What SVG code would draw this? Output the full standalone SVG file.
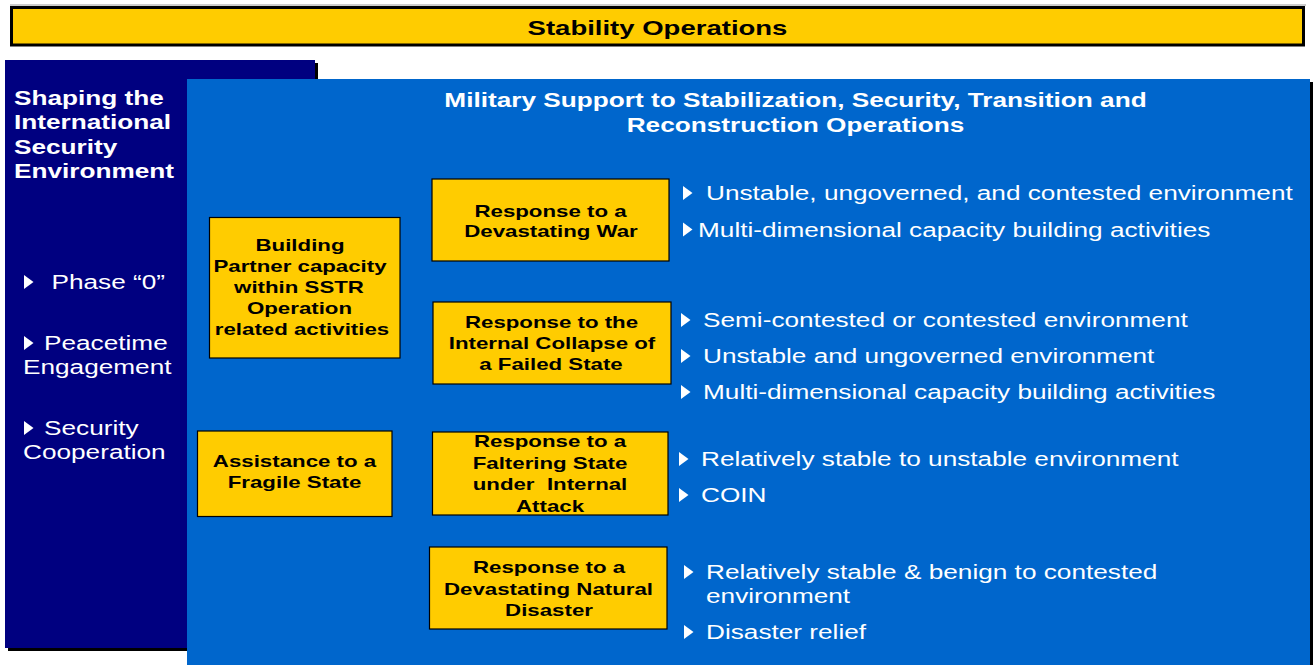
<svg xmlns="http://www.w3.org/2000/svg" width="1316" height="665" viewBox="0 0 1316 665">
<style>
  text { font-family: "Liberation Sans", Arial, sans-serif; }
  .b { font-weight: bold; }
  .w { fill: #FFFFFF; font-size: 20px; }
  .bx { fill: #000000; font-size: 17px; font-weight: bold; text-anchor: middle; }
  .hd { fill: #FFFFFF; font-size: 20px; font-weight: bold; text-anchor: middle; }
  .box { fill: #FFCC00; stroke: #000000; stroke-width: 1.2; }
  .tri { fill: #FFFFFF; }
</style>
<rect x="0" y="0" width="1316" height="665" fill="#FFFFFF"/>

<g id="title">
  <line x1="10" y1="5" x2="1306" y2="5" stroke="#999999" stroke-width="1"/>
  <rect x="11.5" y="7.5" width="1292" height="37.5" fill="#FFCC00" stroke="#000000" stroke-width="3"/>
  <text class="b" font-size="21" text-anchor="middle" transform="translate(657.5,35) scale(1.31,1)">Stability Operations</text>
</g>

<g id="shaping-panel">
  <rect x="8" y="63" width="310" height="588" fill="#000000"/>
  <rect x="5" y="60" width="310" height="588" fill="#000080"/>
  <text class="w b" transform="translate(14,105) scale(1.31,1)">Shaping the</text>
  <text class="w b" transform="translate(14,129) scale(1.31,1)">International</text>
  <text class="w b" transform="translate(14,154) scale(1.31,1)">Security</text>
  <text class="w b" transform="translate(14,178) scale(1.31,1)">Environment</text>
  <polygon class="tri" points="24,275 33.5,282 24,289"/>
  <text class="w" transform="translate(51.5,289) scale(1.31,1)">Phase “0”</text>
  <polygon class="tri" points="24,336 33.5,343 24,350"/>
  <text class="w" transform="translate(44,350) scale(1.31,1)">Peacetime</text>
  <text class="w" transform="translate(23,374) scale(1.31,1)">Engagement</text>
  <polygon class="tri" points="24,421 33.5,428 24,435"/>
  <text class="w" transform="translate(44,435) scale(1.31,1)">Security</text>
  <text class="w" transform="translate(23,459) scale(1.31,1)">Cooperation</text>
</g>

<g id="sstr-panel">
  <rect x="190" y="82" width="1123" height="590" fill="#000000"/>
  <rect x="187" y="79" width="1123" height="590" fill="#0066CC"/>
  <text class="hd" transform="translate(795.5,107) scale(1.31,1)">Military Support to Stabilization, Security, Transition and</text>
  <text class="hd" transform="translate(795.5,132) scale(1.31,1)">Reconstruction Operations</text>
</g>

<g id="connectors"></g>

<g id="building-partner-capacity">
  <rect class="box" x="209.5" y="217.5" width="190.5" height="140.5"/>
  <text class="bx" transform="translate(300,251) scale(1.31,1)">Building</text>
  <text class="bx" transform="translate(300,272) scale(1.31,1)">Partner capacity</text>
  <text class="bx" transform="translate(299,293) scale(1.31,1)">within SSTR</text>
  <text class="bx" transform="translate(299.5,314) scale(1.31,1)">Operation</text>
  <text class="bx" transform="translate(302,335) scale(1.31,1)">related activities</text>
</g>

<g id="assistance-fragile-state">
  <rect class="box" x="197.5" y="431" width="194.5" height="85.5"/>
  <text class="bx" transform="translate(294.5,467) scale(1.31,1)">Assistance to a</text>
  <text class="bx" transform="translate(294.5,488) scale(1.31,1)">Fragile State</text>
</g>

<g id="devastating-war">
  <rect class="box" x="432" y="179" width="237" height="82"/>
  <text class="bx" transform="translate(550.5,216.5) scale(1.31,1)">Response to a</text>
  <text class="bx" transform="translate(551,237) scale(1.31,1)">Devastating War</text>
  <polygon class="tri" points="683,186 692.5,193 683,200"/>
  <text class="w" transform="translate(706,200) scale(1.31,1)">Unstable, ungoverned, and contested environment</text>
  <polygon class="tri" points="683,222.5 692.5,229.5 683,236.5"/>
  <text class="w" transform="translate(698,236.5) scale(1.31,1)">Multi-dimensional capacity building activities</text>
</g>

<g id="failed-state">
  <rect class="box" x="433" y="302" width="238" height="82"/>
  <text class="bx" transform="translate(551.5,328) scale(1.31,1)">Response to the</text>
  <text class="bx" transform="translate(552,349) scale(1.31,1)">Internal Collapse of</text>
  <text class="bx" transform="translate(551,370) scale(1.31,1)">a Failed State</text>
  <polygon class="tri" points="681,313 690.5,320 681,327"/>
  <text class="w" transform="translate(703,327) scale(1.31,1)">Semi-contested or contested environment</text>
  <polygon class="tri" points="681,349 690.5,356 681,363"/>
  <text class="w" transform="translate(703,363) scale(1.31,1)">Unstable and ungoverned environment</text>
  <polygon class="tri" points="681,385 690.5,392 681,399"/>
  <text class="w" transform="translate(703,399) scale(1.31,1)">Multi-dimensional capacity building activities</text>
</g>

<g id="faltering-state">
  <rect class="box" x="432.5" y="432" width="235.5" height="83"/>
  <text class="bx" transform="translate(550,447) scale(1.31,1)">Response to a</text>
  <text class="bx" transform="translate(550,469) scale(1.31,1)">Faltering State</text>
  <text class="bx" xml:space="preserve" transform="translate(550,490) scale(1.31,1)">under  Internal</text>
  <text class="bx" transform="translate(550,512) scale(1.31,1)">Attack</text>
  <polygon class="tri" points="679,452 688.5,459 679,466"/>
  <text class="w" transform="translate(701,466) scale(1.31,1)">Relatively stable to unstable environment</text>
  <polygon class="tri" points="679,488 688.5,495 679,502"/>
  <text class="w" transform="translate(701,502) scale(1.31,1)">COIN</text>
</g>

<g id="natural-disaster">
  <rect class="box" x="429.5" y="547" width="237.5" height="82"/>
  <text class="bx" transform="translate(549,573) scale(1.31,1)">Response to a</text>
  <text class="bx" transform="translate(548.5,595) scale(1.31,1)">Devastating Natural</text>
  <text class="bx" transform="translate(549,616) scale(1.31,1)">Disaster</text>
  <polygon class="tri" points="684,565 693.5,572 684,579"/>
  <text class="w" transform="translate(706,579) scale(1.31,1)">Relatively stable &amp; benign to contested</text>
  <text class="w" transform="translate(706,603) scale(1.31,1)">environment</text>
  <polygon class="tri" points="684,625 693.5,632 684,639"/>
  <text class="w" transform="translate(706,639) scale(1.31,1)">Disaster relief</text>
</g>
</svg>
